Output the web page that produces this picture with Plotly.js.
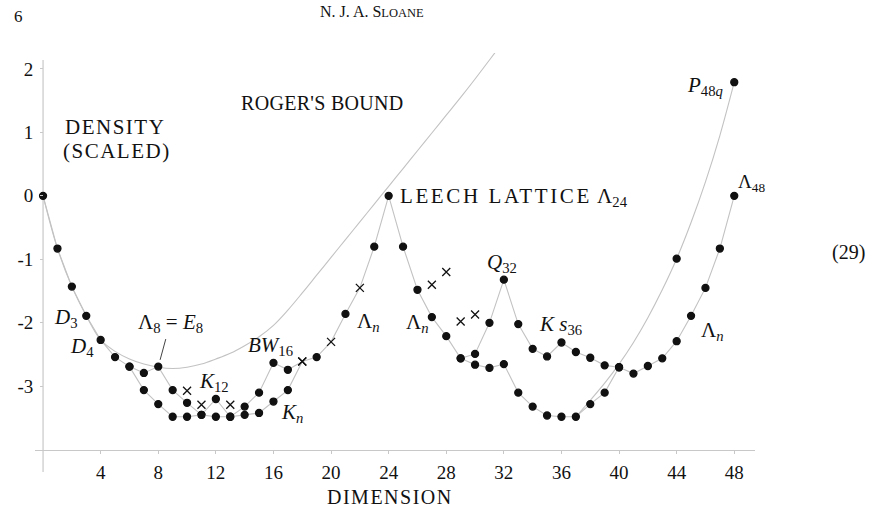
<!DOCTYPE html>
<html><head><meta charset="utf-8">
<script src="https://cdn.plot.ly/plotly-3.0.1.min.js"></script>
<style>html,body{margin:0;padding:0;background:#fff;} #chart{width:896px;height:510px;}</style>
</head><body><div id="chart"></div>
<script>
// ---- data (dimension vs scaled density) ----
const mainDim = [0,1,2,3,4,5,6,7,8,9,10,11,12,13,14,15,16,17,18,19,20,21,22,23,24,25,26,27,28,29,30,31,32,33,34,35,36,37,38,39,40,41,42,43,44,45,46,47,48];
const mainVal = [0,-0.83,-1.43,-1.89,-2.27,-2.54,-2.69,-2.79,-2.69,-3.06,-3.26,-3.45,-3.20,-3.48,-3.32,-3.10,-2.63,-2.74,-2.61,-2.54,-2.30,-1.86,-1.45,-0.80,0,-0.80,-1.48,-1.91,-2.21,-2.56,-2.66,-2.71,-2.65,-3.10,-3.32,-3.46,-3.48,-3.48,-3.28,-3.10,-2.70,-2.80,-2.68,-2.56,-2.29,-1.89,-1.45,-0.83,0];
const mainCrossDims = [18,20,22];

const kDim = [6,7,8,9,10,11,12,13,14,15,16,17,18];
const kVal = [-2.69,-3.06,-3.28,-3.48,-3.48,-3.45,-3.48,-3.48,-3.45,-3.42,-3.24,-3.06,-2.61];

const qDim = [29,30,31,32,33,34,35,36,37,38,39,40];
const qVal = [-2.56,-2.49,-2.00,-1.32,-2.02,-2.41,-2.53,-2.31,-2.46,-2.55,-2.67,-2.70];

const crossDim = [10,11,13,27,28,29,30];
const crossVal = [-3.07,-3.29,-3.29,-1.40,-1.20,-1.98,-1.87];

const pCurveDim = [37,38,39,40,41,42,43,44,45,46,47,48];
const pCurveVal = [-3.48,-3.22,-2.95,-2.65,-2.31,-1.92,-1.48,-0.99,-0.42,0.22,0.95,1.79];
const pDotDim = [44,48];
const pDotVal = [-0.99,1.79];

const rogersDim = [0,1,2,3,4,5,6,7,8,9,10,11,12,13,14,15,16,17,18,19,20,21,22,23,24,25,26,27,28,29,30,31,31.4];
const rogersVal = [0,-0.83,-1.43,-1.89,-2.27,-2.45,-2.57,-2.65,-2.70,-2.72,-2.70,-2.65,-2.57,-2.48,-2.36,-2.22,-2.04,-1.80,-1.53,-1.25,-0.97,-0.69,-0.41,-0.13,0.15,0.43,0.71,0.99,1.27,1.55,1.84,2.14,2.26];

const xTicks = [4,8,12,16,20,24,28,32,36,40,44,48];
const yTicks = [-3,-2,-1,0,1,2];
const yTickText = ['-3','-2','-1','0','1','2'];

// ---- styles ----
const LINE = {color:'#c2c2c2', width:1.1};
const INK = '#111';
const FONT = 'Liberation Serif, Times New Roman, serif';
const DOT = 7, CROSS = 8;

function sym(dims, crosses){ return dims.map(d => crosses.includes(d) ? 'x-thin' : 'circle'); }
function sz(dims, crosses){ return dims.map(d => crosses.includes(d) ? CROSS : DOT); }
function mk(symbol, size){ return {symbol:symbol, size:size, color:INK, opacity:1, line:{color:INK, width:1.3}}; }

const traces = [
  {x:rogersDim, y:rogersVal, mode:'lines', line:Object.assign({shape:'spline', smoothing:1}, LINE), hoverinfo:'skip'},
  {x:pCurveDim, y:pCurveVal, mode:'lines', line:Object.assign({shape:'spline', smoothing:1}, LINE), hoverinfo:'skip'},
  {x:mainDim, y:mainVal, mode:'lines+markers', line:LINE, marker:mk(sym(mainDim, mainCrossDims), sz(mainDim, mainCrossDims))},
  {x:kDim, y:kVal, mode:'lines+markers', line:LINE, marker:mk(sym(kDim, [18]), sz(kDim, [18]))},
  {x:qDim, y:qVal, mode:'lines+markers', line:LINE, marker:mk('circle', DOT)},
  {x:crossDim, y:crossVal, mode:'markers', marker:mk('x-thin', CROSS)},
  {x:pDotDim, y:pDotVal, mode:'markers', marker:mk('circle', DOT)}
];

function caps(t, sp){ return '<span style="letter-spacing:' + (sp === undefined ? 1.5 : sp) + 'px">' + t + '</span>'; }
function lab(text, x, y, opts){
  return Object.assign({text:text, x:x, y:y, xref:'x', yref:'y', showarrow:false,
    font:{family:FONT, size:21, color:INK}}, opts||{});
}
const CAPF = {family:FONT, size:21, color:INK};

const annotations = [
  lab(caps('DENSITY'), 5.0, 1.09, {font:CAPF}),
  lab(caps('(SCALED)'), 5.14, 0.71, {font:CAPF}),
  lab(caps("ROGER'S BOUND", 0.3), 19.4, 1.46, {font:{family:FONT, size:20, color:INK}}),
  lab(caps('LEECH LATTICE', 2.6) + ' Λ<sub>24</sub>', 24.65, -0.02, {xanchor:'left', font:CAPF}),
  lab('<i>D</i><sub>3</sub>', 1.6, -1.92),
  lab('<i>D</i><sub>4</sub>', 2.7, -2.38),
  {text:'Λ<sub>8</sub> = <i>E</i><sub>8</sub>', x:8, y:-2.69, xref:'x', yref:'y', ax:12, ay:-44,
   showarrow:true, arrowhead:0, arrowwidth:1, arrowcolor:'#444', standoff:7, startstandoff:2,
   font:{family:FONT, size:21, color:INK}},
  lab('<i>K</i><sub>12</sub>', 11.9, -2.94),
  lab('<i>BW</i><sub>16</sub>', 15.8, -2.36),
  lab('<i>K<sub>n</sub></i>', 17.3, -3.42),
  lab('Λ<sub><i>n</i></sub>', 22.6, -1.98),
  lab('Λ<sub><i>n</i></sub>', 26.0, -2.0),
  lab('<i>Q</i><sub>32</sub>', 31.9, -1.06),
  lab('<i>K s</i><sub>36</sub>', 35.9, -2.03),
  lab('Λ<sub><i>n</i></sub>', 46.5, -2.13),
  lab('Λ<sub>48</sub>', 49.2, 0.2, {font:{family:FONT, size:19, color:INK}}),
  lab('<i>P</i><sub>48<i>q</i></sub>', 46.0, 1.73),
  {text:caps('DIMENSION'), x:24.1, y:-0.060, xref:'x', yref:'paper', showarrow:false, yanchor:'middle',
   font:{family:FONT, size:20, color:INK}},
  {text:'6', x:-0.032, y:1.086, xref:'paper', yref:'paper', showarrow:false, yanchor:'middle', font:{family:FONT, size:17, color:INK}},
  {text:'N. J. A. S<span style="font-size:12.5px">LOANE</span>', x:0.468, y:1.098, xref:'paper', yref:'paper', showarrow:false,
   yanchor:'middle', font:{family:FONT, size:16, color:INK}},
  {text:'(29)', x:1.156, y:0.525, xref:'paper', yref:'paper', showarrow:false, yanchor:'middle', font:{family:FONT, size:20, color:INK}}
];

const layout = {
  width:896, height:510,
  margin:{l:35, r:141, t:53, b:38},
  paper_bgcolor:'#fff', plot_bgcolor:'#fff',
  showlegend:false,
  font:{family:FONT, color:INK},
  xaxis:{range:[-0.56, 49.44], anchor:'free', position:0.053, showline:true, linecolor:'#c8c8c8', linewidth:1.2,
    ticks:'outside', ticklen:3, tickcolor:'#c8c8c8', tickvals:xTicks, showgrid:false, zeroline:false,
    tickfont:{family:FONT, size:19, color:INK}, ticklabelstandoff:2},
  yaxis:{range:[-4.35, 2.25], anchor:'free', position:0.0112, showline:false,
    ticks:'outside', ticklen:3, tickcolor:'#c8c8c8', tickvals:yTicks, ticktext:yTickText, showgrid:false, zeroline:false,
    tickfont:{family:FONT, size:19, color:INK}, ticklabelstandoff:3},
  shapes:[{type:'line', xref:'x', yref:'y', x0:0, x1:0, y0:-4.35, y1:2.14, line:{color:'#c8c8c8', width:1.2}, layer:'below'}],
  annotations:annotations
};

Plotly.newPlot('chart', traces, layout, {displayModeBar:false, staticPlot:true});
</script></body></html>
